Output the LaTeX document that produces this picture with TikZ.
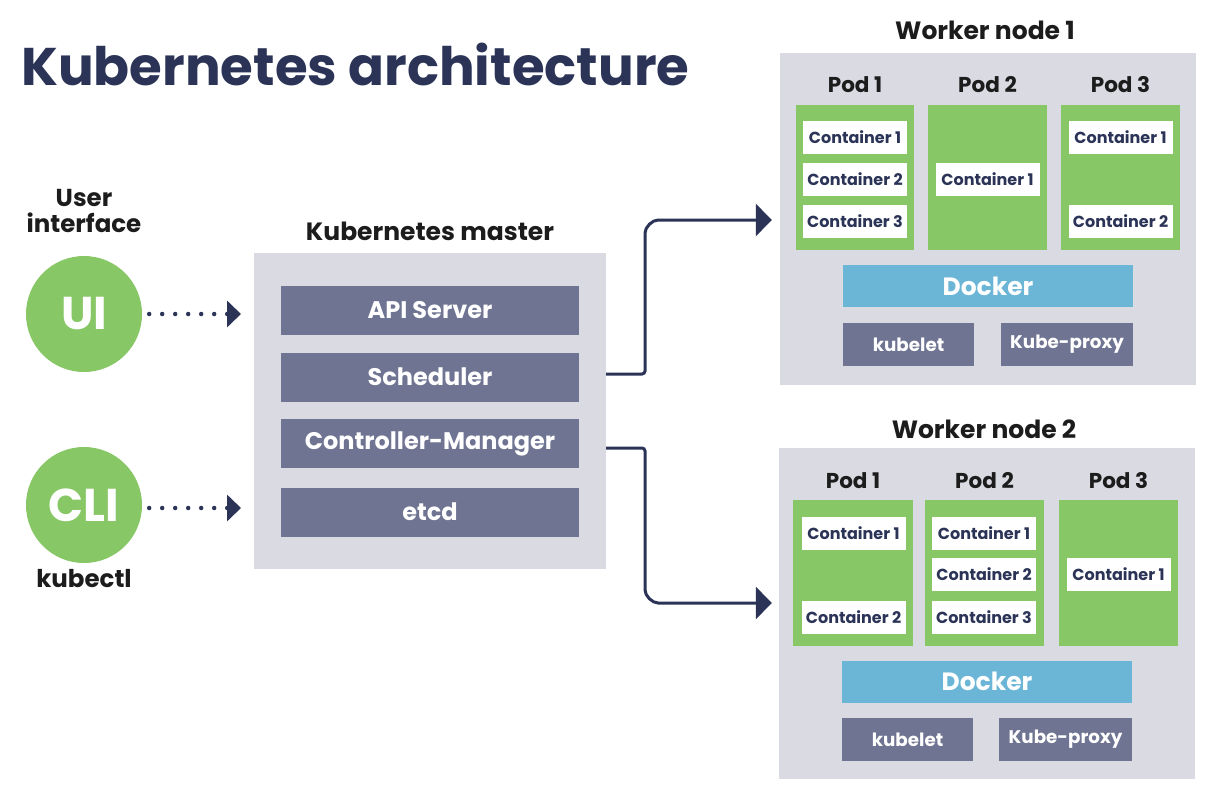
\documentclass[tikz,border=0pt]{standalone}
\usepackage{fontspec}
\setmainfont{Poppins}
\usetikzlibrary{arrows.meta}
\definecolor{navy}{HTML}{2B3457}
\definecolor{panel}{HTML}{D9DAE2}
\definecolor{slate}{HTML}{6E7491}
\definecolor{leaf}{HTML}{88C766}
\definecolor{sky}{HTML}{6BB5D6}
\definecolor{ink}{HTML}{1C1C1C}
\newcommand\kfont[1]{\fontsize{#1}{#1}\selectfont\bfseries}
\begin{document}
\begin{tikzpicture}[x=1pt,y=-1pt,
  panelbox/.style={fill=panel, inner sep=0, minimum width=#1},
  podbox/.style={fill=leaf, inner sep=0, minimum width=#1},
  slatebox/.style={fill=slate, inner sep=0, text=white, minimum width=#1},
  dockbox/.style={fill=sky, inner sep=0, text=white, font=\kfont{25}, minimum width=290, minimum height=42},
  cont/.style={fill=white, inner sep=0, text=navy, font=\kfont{16}, minimum width=104, minimum height=33},
  masterbox/.style={slatebox=298, minimum height=49, font=\kfont{24}},
  smallbox/.style={slatebox=#1, minimum height=43, font=\kfont{18.3}},
  head/.style={anchor=base, text=ink, font=\kfont{25}},
  podlabel/.style={anchor=base, text=ink, font=\kfont{21.5}},
  userlabel/.style={anchor=base, text=ink, font=\kfont{24.5}},
  circ/.style={circle, fill=leaf, inner sep=0, minimum size=116, text=white, font=\kfont{46}},
  flow/.style={draw=navy, line width=3, rounded corners=3, -{Triangle[length=16pt,width=32pt]}},
  dotline/.style={draw=navy, line width=4.5, line cap=round, dash pattern=on 0pt off 13pt, -{Triangle[length=14pt,width=26pt]}}
]
\useasboundingbox (0,0) rectangle (1225,805);
\fill[white] (0,0) rectangle (1225,805);

% title
\node[anchor=base west, text=navy, font=\kfont{53}, inner sep=0] (title) at (21,86) {Kubernetes architecture};

% user side
\node[userlabel] (userl1) at (84,206) {User};
\node[userlabel] (userl2) at (84,232) {interface};
\node[circ] (ui) at (84,314) {UI};
\node[circ] (cli) at (84,505) {CLI};
\node[userlabel] (kubectl) at (84,587) {kubectl};

% master
\node[head] (mastert) at (430,240) {Kubernetes master};
\node[panelbox=352, minimum height=316] (master) at (430,411) {};
\node[masterbox] (api) at (430,310.5) {API Server};
\node[masterbox] (sched) at (430,377) {Scheduler};
\node[masterbox] (cm) at (430,443.5) {Controller-Manager};
\node[masterbox] (etcd) at (430,512) {etcd};

\coordinate (uitip) at (241,314);
\coordinate (clitip) at (241,508);
\draw[dotline] ([xshift=7]ui.east) -- (uitip);
\draw[dotline] ([xshift=7]cli.east |- clitip) -- (clitip);

% worker node 1
\node[head] (w1t) at (985,40) {Worker node 1};
\node[panelbox=416, minimum height=332] (wn1) at (988,219) {};
\node[podlabel] (w1l1) at (855,93) {Pod 1};
\node[podlabel] (w1l2) at (987.5,93) {Pod 2};
\node[podlabel] (w1l3) at (1120.5,93) {Pod 3};
\node[podbox=118, minimum height=145] (w1p1) at (855,177.5) {};
\node[podbox=119, minimum height=145] (w1p2) at (987.5,177.5) {};
\node[podbox=119, minimum height=145] (w1p3) at (1120.5,177.5) {};
\node[cont] (w1p1c1) at (855,137.5) {Container 1};
\node[cont] (w1p1c2) at (855,179.5) {Container 2};
\node[cont] (w1p1c3) at (855,221.5) {Container 3};
\node[cont] (w1p2c1) at (987.5,179.5) {Container 1};
\node[cont] (w1p3c1) at (1120.5,137.5) {Container 1};
\node[cont] (w1p3c2) at (1120.5,221.5) {Container 2};
\node[dockbox] (w1d) at (988,286) {Docker};
\node[smallbox=131] (w1k) at (908.5,344.5) {kubelet};
\node[smallbox=132] (w1kp) at (1067,344.5) {Kube-proxy};

% worker node 2
\node[head] (w2t) at (984,438) {Worker node 2};
\node[panelbox=416, minimum height=331] (wn2) at (987,613.5) {};
\node[podlabel] (w2l1) at (853,488) {Pod 1};
\node[podlabel] (w2l2) at (984.5,488) {Pod 2};
\node[podlabel] (w2l3) at (1118.5,488) {Pod 3};
\node[podbox=120, minimum height=146] (w2p1) at (853,573) {};
\node[podbox=119, minimum height=146] (w2p2) at (984.5,573) {};
\node[podbox=119, minimum height=146] (w2p3) at (1118.5,573) {};
\node[cont] (w2p1c1) at (853.5,533) {Container 1};
\node[cont] (w2p1c2) at (853.5,617) {Container 2};
\node[cont] (w2p2c1) at (984,533) {Container 1};
\node[cont] (w2p2c2) at (984,574.5) {Container 2};
\node[cont] (w2p2c3) at (984,617) {Container 3};
\node[cont] (w2p3c1) at (1118.5,574.5) {Container 1};
\node[dockbox] (w2d) at (987,681.5) {Docker};
\node[smallbox=131] (w2k) at (907.5,739.5) {kubelet};
\node[smallbox=133] (w2kp) at (1065.5,739.5) {Kube-proxy};

% connectors master -> workers
\coordinate (s1) at (master.east |- 0,374);
\coordinate (t1) at ([xshift=-8]wn1.west |- 0,220);
\coordinate (s2) at (master.east |- 0,448);
\coordinate (t2) at ([xshift=-7]wn2.west |- 0,603);
\draw[flow] (s1) -- (645,374) -- (645,236) arc[start angle=180, end angle=270, radius=16] -- (t1);
\draw[flow] (s2) -- (645,448) -- (645,587) arc[start angle=180, end angle=90, radius=16] -- (t2);
\end{tikzpicture}
\end{document}
